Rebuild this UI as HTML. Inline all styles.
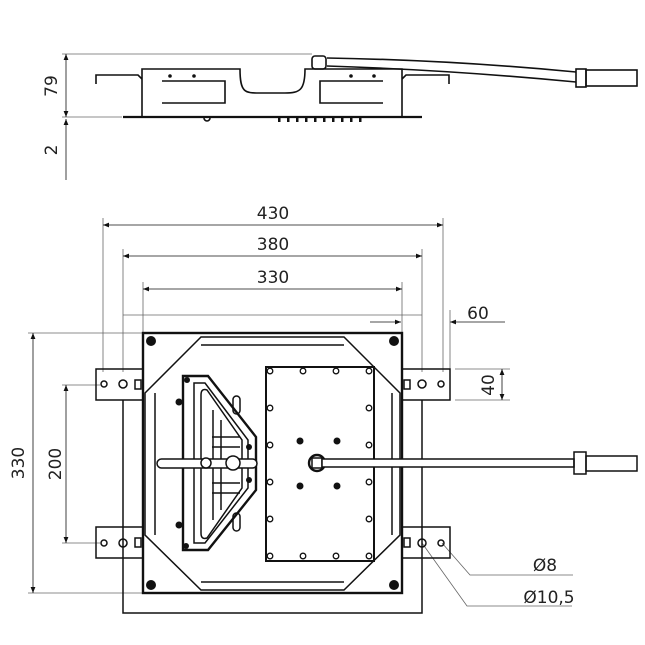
<!DOCTYPE html>
<html><head><meta charset="utf-8"><style>
html,body{margin:0;padding:0;background:#fff;}
svg{display:block;}
text{font-family:"DejaVu Sans","Liberation Sans",sans-serif;font-size:17px;fill:#222;}
</style></head><body>
<svg width="645" height="645" viewBox="0 0 645 645" xmlns="http://www.w3.org/2000/svg">
<defs>
<marker id="a" viewBox="0 0 10 10" refX="10" refY="5" markerWidth="9" markerHeight="6" orient="auto-start-reverse" markerUnits="userSpaceOnUse"><path d="M0,1 L10,5 L0,9 Z" fill="#111"/></marker>
</defs>
<g stroke="#666" stroke-width="0.8" fill="none">
<line x1="62" y1="54" x2="312" y2="54"/>
<line x1="62" y1="117" x2="122" y2="117"/>
<line x1="66" y1="54" x2="66" y2="117" stroke="#111" marker-start="url(#a)" marker-end="url(#a)"/>
<line x1="66" y1="119" x2="66" y2="180" stroke="#111" marker-start="url(#a)"/>
<line x1="103" y1="218" x2="103" y2="372"/><line x1="443" y1="218" x2="443" y2="372"/>
<line x1="123" y1="249" x2="123" y2="372"/><line x1="422" y1="249" x2="422" y2="372"/>
<line x1="143" y1="282" x2="143" y2="335"/><line x1="402" y1="282" x2="402" y2="335"/>
<line x1="103" y1="225" x2="443" y2="225" stroke="#111" marker-start="url(#a)" marker-end="url(#a)"/>
<line x1="123" y1="256" x2="422" y2="256" stroke="#111" marker-start="url(#a)" marker-end="url(#a)"/>
<line x1="143" y1="289" x2="402" y2="289" stroke="#111" marker-start="url(#a)" marker-end="url(#a)"/>
<line x1="123" y1="315" x2="422" y2="315"/>
<line x1="370" y1="322" x2="401" y2="322" stroke="#111" marker-end="url(#a)"/>
<line x1="450" y1="322" x2="505" y2="322" stroke="#111" marker-start="url(#a)"/>
<line x1="450" y1="310" x2="450" y2="372"/>
<line x1="455" y1="369" x2="510" y2="369"/><line x1="455" y1="400" x2="510" y2="400"/>
<line x1="502" y1="369" x2="502" y2="400" stroke="#111" marker-start="url(#a)" marker-end="url(#a)"/>
<line x1="28" y1="333" x2="143" y2="333"/><line x1="28" y1="593" x2="143" y2="593"/>
<line x1="33" y1="333" x2="33" y2="593" stroke="#111" marker-start="url(#a)" marker-end="url(#a)"/>
<line x1="62" y1="385" x2="100" y2="385"/><line x1="62" y1="543" x2="100" y2="543"/>
<line x1="66" y1="385" x2="66" y2="543" stroke="#111" marker-start="url(#a)" marker-end="url(#a)"/>
<polyline points="442,543 470,575 573,575"/>
<polyline points="422,543 467,606 572,606"/>
</g>
<g fill="#222">
<text x="57" y="86" transform="rotate(-90 57 86)" text-anchor="middle">79</text>
<text x="57" y="150" transform="rotate(-90 57 150)" text-anchor="middle">2</text>
<text x="273" y="219" text-anchor="middle">430</text>
<text x="273" y="250" text-anchor="middle">380</text>
<text x="273" y="283" text-anchor="middle">330</text>
<text x="478" y="319" text-anchor="middle">60</text>
<text x="494" y="385" transform="rotate(-90 494 385)" text-anchor="middle">40</text>
<text x="24" y="463" transform="rotate(-90 24 463)" text-anchor="middle">330</text>
<text x="61" y="464" transform="rotate(-90 61 464)" text-anchor="middle">200</text>
<text x="545" y="571" text-anchor="middle">Ø8</text>
<text x="549" y="603" text-anchor="middle">Ø10,5</text>
</g>
<g stroke="#111" stroke-width="1.6" fill="none">
<path d="M142,116 V69 H240 C240,93 245,93 260,93 H285 C300,93 305,90 305,69 H402 V116"/>
<line x1="123" y1="117" x2="422" y2="117" stroke-width="2.2"/>
<polyline points="96,84 96,75 138,75 142,79"/><polyline points="449,84 449,75 406,75 402,79"/>
<polyline points="162,81 225,81 225,103 162,103"/>
<polyline points="383,81 320,81 320,103 383,103"/>
<rect x="312" y="56" width="14" height="13" rx="3"/>
<path d="M327,58 Q450,60 576,72"/><path d="M327,66 Q450,70 576,82"/>
<rect x="576" y="69" width="10" height="18"/><rect x="586" y="70" width="51" height="16"/>
<path d="M204,118 a3,3 0 0 0 6,0"/>
</g>
<g fill="#111">
<circle cx="170" cy="76" r="1.8"/><circle cx="194" cy="76" r="1.8"/><circle cx="351" cy="76" r="1.8"/><circle cx="374" cy="76" r="1.8"/>
<rect x="278" y="118" width="2.5" height="4"/><rect x="287" y="118" width="2.5" height="4"/><rect x="296" y="118" width="2.5" height="4"/><rect x="305" y="118" width="2.5" height="4"/><rect x="314" y="118" width="2.5" height="4"/><rect x="323" y="118" width="2.5" height="4"/><rect x="332" y="118" width="2.5" height="4"/><rect x="341" y="118" width="2.5" height="4"/><rect x="350" y="118" width="2.5" height="4"/><rect x="359" y="118" width="2.5" height="4"/>
</g>
<g stroke="#111" stroke-width="1.5" fill="none">
<polyline points="123,400 123,613 422,613 422,400"/>
<rect x="143" y="333" width="259" height="260" stroke-width="2.4"/>
<path d="M201,337 H344 L400,393 V535 L344,590 H201 L145,535 V393 Z"/>
<line x1="201" y1="345" x2="344" y2="345"/><line x1="201" y1="582" x2="344" y2="582"/>
<line x1="155" y1="393" x2="155" y2="535"/><line x1="392" y1="393" x2="392" y2="535"/>
<rect x="96" y="369" width="47" height="31"/><rect x="96" y="527" width="47" height="31"/>
<rect x="402" y="369" width="48" height="31"/><rect x="402" y="527" width="48" height="31"/>
<circle cx="104" cy="384" r="3"/><circle cx="123" cy="384" r="4"/><circle cx="104" cy="543" r="3"/><circle cx="123" cy="543" r="4"/>
<circle cx="441" cy="384" r="3"/><circle cx="422" cy="384" r="4"/><circle cx="441" cy="543" r="3"/><circle cx="422" cy="543" r="4"/>
<rect x="135" y="380" width="6" height="9"/><rect x="135" y="538" width="6" height="9"/>
<rect x="404" y="380" width="6" height="9"/><rect x="404" y="538" width="6" height="9"/>
<rect x="266" y="367" width="108" height="194" stroke-width="2"/>
<path d="M183,376 H208 L256,437 V490 L208,550 H183 Z" stroke-width="2.4"/>
<path d="M194,383 H205 L248,440 V488 L205,543 H194 Z"/>
<path d="M201,395 Q201,388 207,390 L242,440 V488 L207,538 Q201,540 201,533 Z"/>
<line x1="213" y1="410" x2="213" y2="520"/><line x1="221" y1="420" x2="221" y2="510"/>
<line x1="212" y1="437" x2="240" y2="437"/><line x1="212" y1="447" x2="240" y2="447"/><line x1="212" y1="483" x2="240" y2="483"/><line x1="212" y1="493" x2="240" y2="493"/>
<rect x="157" y="459" width="100" height="9" rx="4.5" fill="#fff"/>
<circle cx="233" cy="463" r="7" fill="#fff"/><circle cx="206" cy="463" r="5" fill="#fff"/>
<circle cx="317" cy="463" r="8" stroke-width="2.4"/><rect x="312" y="458" width="10" height="10"/>
<rect x="322" y="459" width="252" height="8" fill="#fff"/>
<rect x="574" y="452" width="12" height="22"/><rect x="586" y="456" width="51" height="15"/>
<rect x="233" y="396" width="7" height="18" rx="3.5"/><rect x="233" y="513" width="7" height="18" rx="3.5"/>
</g>
<g fill="#111">
<circle cx="151" cy="341" r="5"/><circle cx="394" cy="341" r="5"/><circle cx="151" cy="585" r="5"/><circle cx="394" cy="585" r="5"/>
<circle cx="300" cy="441" r="3.5"/><circle cx="337" cy="441" r="3.5"/><circle cx="300" cy="486" r="3.5"/><circle cx="337" cy="486" r="3.5"/>
<circle cx="179" cy="402" r="3.5"/><circle cx="179" cy="525" r="3.5"/><circle cx="186" cy="546" r="3"/><circle cx="187" cy="380" r="3"/>
<circle cx="249" cy="447" r="3"/><circle cx="249" cy="480" r="3"/>
</g>
<g fill="none" stroke="#111" stroke-width="1.3">
<circle cx="270" cy="371" r="2.8"/><circle cx="303" cy="371" r="2.8"/><circle cx="336" cy="371" r="2.8"/><circle cx="369" cy="371" r="2.8"/>
<circle cx="270" cy="408" r="2.8"/><circle cx="369" cy="408" r="2.8"/>
<circle cx="270" cy="445" r="2.8"/><circle cx="369" cy="445" r="2.8"/>
<circle cx="270" cy="482" r="2.8"/><circle cx="369" cy="482" r="2.8"/>
<circle cx="270" cy="519" r="2.8"/><circle cx="369" cy="519" r="2.8"/>
<circle cx="270" cy="556" r="2.8"/><circle cx="303" cy="556" r="2.8"/><circle cx="336" cy="556" r="2.8"/><circle cx="369" cy="556" r="2.8"/>
</g>
</svg>
</body></html>
